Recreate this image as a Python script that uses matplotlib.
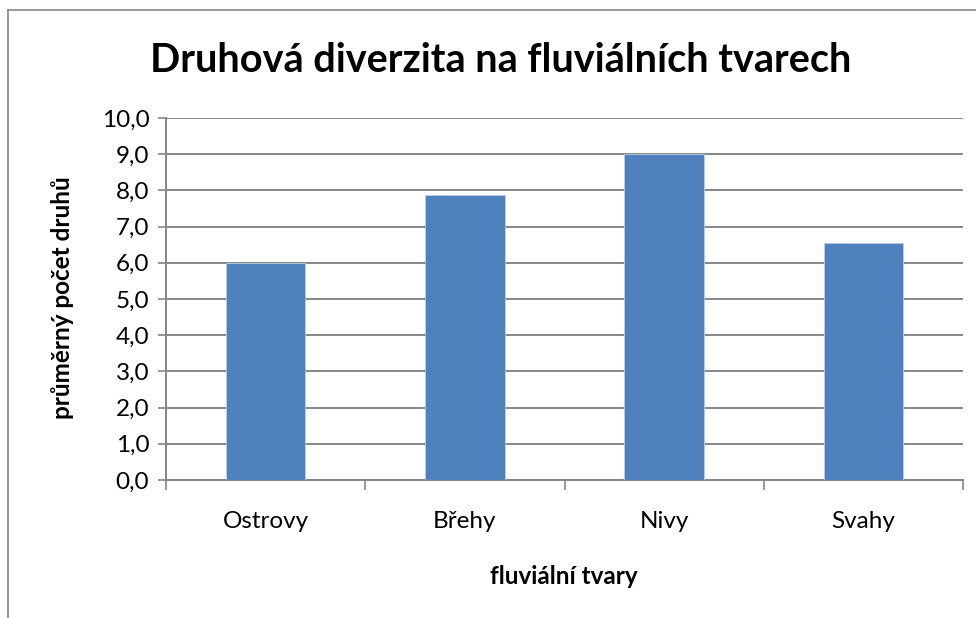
import matplotlib
matplotlib.use("Agg")
import matplotlib.pyplot as plt
from matplotlib.lines import Line2D

categories = ["Ostrovy", "Břehy", "Nivy", "Svahy"]
values = [6.0, 7.88, 9.0, 6.55]
yticks = [0, 1, 2, 3, 4, 5, 6, 7, 8, 9, 10]
ytick_labels = ["0,0", "1,0", "2,0", "3,0", "4,0", "5,0", "6,0", "7,0", "8,0", "9,0", "10,0"]

W, H = 976, 618
fig = plt.figure(figsize=(W / 100, H / 100), dpi=100)
fam = ["Lato", "DejaVu Sans"]

ax = fig.add_axes([166 / W, 1 - 480 / H, (963 - 166) / W, (480 - 118) / H])
gray = "#868686"
x = list(range(len(categories)))
ax.bar(x, values, width=0.4, color="#4F81BD", edgecolor="#B9CDE5", linewidth=0.6, zorder=3)
ax.set_xlim(-0.5, len(categories) - 0.5)
ax.set_ylim(0, 10)
ax.set_yticks(yticks)
ax.set_yticklabels(ytick_labels, fontfamily=fam, fontsize=17.5)
ax.set_xticks(x)
ax.set_xticklabels(categories, fontfamily=fam, fontsize=17.5)
ax.tick_params(axis="x", length=0, pad=22)
ax.tick_params(axis="y", length=6, color=gray, width=1.2, pad=6)
# category boundary ticks
ax.set_xticks([i - 0.5 for i in range(len(categories) + 1)], minor=True)
ax.tick_params(axis="x", which="minor", length=7, color=gray, width=1.2)
ax.grid(axis="y", color=gray, linewidth=1.4, zorder=0)
ax.set_axisbelow(True)
for s in ["top", "right"]:
    ax.spines[s].set_visible(False)
for s in ["left", "bottom"]:
    ax.spines[s].set_color(gray)
    ax.spines[s].set_linewidth(1.4)

fig.text(501 / W, 1 - 60 / H, "Druhová diverzita na fluviálních tvarech",
         ha="center", va="center", fontsize=28.5, fontweight="bold", fontfamily=fam)
fig.text(564 / W, 1 - 577 / H, "fluviální tvary", ha="center", va="center",
         fontsize=17.5, fontweight="bold", fontfamily=fam)
fig.text(62 / W, 1 - 298 / H, "průměrný počet druhů", ha="center", va="center",
         rotation=90, fontsize=17.5, fontweight="bold", fontfamily=fam)

# outer chart frame (cropped at right and bottom)
fig.add_artist(Line2D([8 / W, 8 / W], [0, 1 - 10 / H], color=gray, linewidth=1.2))
fig.add_artist(Line2D([8 / W, 1], [1 - 10 / H, 1 - 10 / H], color=gray, linewidth=1.2))

fig.savefig("out.png", dpi=100)
